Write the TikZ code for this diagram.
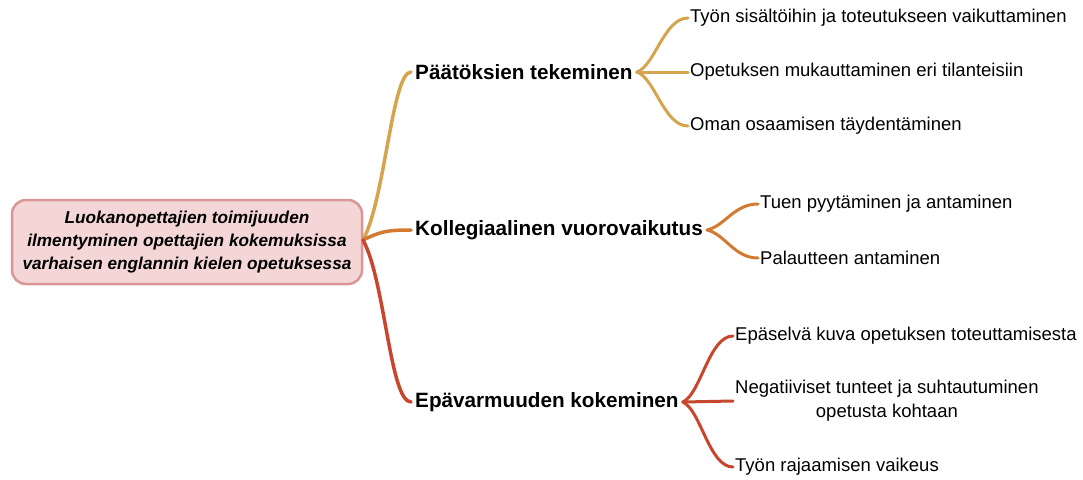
\documentclass[tikz,border=0pt]{standalone}
\usepackage{fontspec}
\setmainfont{Liberation Sans}
\definecolor{cgold}{RGB}{212,164,78}
\definecolor{corange}{RGB}{212,122,48}
\definecolor{cred}{RGB}{199,70,45}
\definecolor{rootfill}{RGB}{245,214,214}
\definecolor{rootdraw}{RGB}{218,150,150}
\begin{document}
\begin{tikzpicture}[x=1pt,y=-1pt,
  rootbox/.style={draw=rootdraw,line width=2.5pt,fill=rootfill,rounded corners=14pt,
    minimum width=350pt,minimum height=84pt,align=center,inner sep=0pt,
    font=\fontsize{17.2}{23}\selectfont\bfseries\itshape},
  head/.style={anchor=west,inner sep=0pt,font=\fontsize{20.7}{24}\selectfont\bfseries},
  leaf/.style={anchor=west,inner sep=0pt,font=\fontsize{18.5}{24}\selectfont},
  mainbr/.style={line width=3.5pt,line cap=round},
  subbr/.style={line width=3pt,line cap=round}]
\useasboundingbox (0,0) rectangle (1083,479);
\node[rootbox] (root) at (187,242) {Luokanopettajien toimijuuden\\ilmentyminen opettajien kokemuksissa\\varhaisen englannin kielen opetuksessa};
\coordinate (r) at (363,240);
\node[head] (h1) at (415,72) {Päätöksien tekeminen};
\node[head] (h2) at (415,230) {Kollegiaalinen vuorovaikutus};
\node[head] (h3) at (415,402) {Epävarmuuden kokeminen};
\node[leaf] (a1) at (690,18) {Työn sisältöihin ja toteutukseen vaikuttaminen};
\node[leaf] (a2) at (690,72) {Opetuksen mukauttaminen eri tilanteisiin};
\node[leaf] (a3) at (690,126) {Oman osaamisen täydentäminen};
\node[leaf] (b1) at (760,204) {Tuen pyytäminen ja antaminen};
\node[leaf] (b2) at (760,258) {Palautteen antaminen};
\node[leaf] (c1) at (735,336) {Epäselvä kuva opetuksen toteuttamisesta};
\node[leaf,align=center] (c2) at (735,401) {Negatiiviset tunteet ja suhtautuminen\\opetusta kohtaan};
\node[leaf] (c3) at (735,467) {Työn rajaamisen vaikeus};
% main branches
\draw[mainbr,cgold] (r) .. controls (385,200) and (392,72) .. ([xshift=-4pt]h1.west);
\draw[mainbr,corange] (r) .. controls (380,232) and (385,230) .. ([xshift=-4pt]h2.west);
\draw[mainbr,cred] (r) .. controls (385,280) and (390,402) .. ([xshift=-4pt]h3.west);
% sub branches
\coordinate (p1) at ([xshift=4pt]h1.east);
\draw[subbr,cgold] (p1) .. controls +(18,-6) and +(-24,0) .. ([xshift=-2pt]a1.west);
\draw[subbr,cgold] (p1) -- ([xshift=-2pt]a2.west);
\draw[subbr,cgold] (p1) .. controls +(18,6) and +(-24,0) .. ([xshift=-2pt]a3.west);
\coordinate (p2) at ([xshift=4pt]h2.east);
\draw[subbr,corange] (p2) .. controls +(18,-4) and +(-24,0) .. ([xshift=-2pt]b1.west);
\draw[subbr,corange] (p2) .. controls +(18,4) and +(-24,0) .. ([xshift=-2pt]b2.west);
\coordinate (p3) at ([xshift=4pt]h3.east);
\draw[subbr,cred] (p3) .. controls +(18,-8) and +(-24,0) .. ([xshift=-2pt]c1.west);
\draw[subbr,cred] (p3) -- ([xshift=-2pt]c2.west);
\draw[subbr,cred] (p3) .. controls +(18,8) and +(-24,0) .. ([xshift=-2pt]c3.west);
\end{tikzpicture}
\end{document}
